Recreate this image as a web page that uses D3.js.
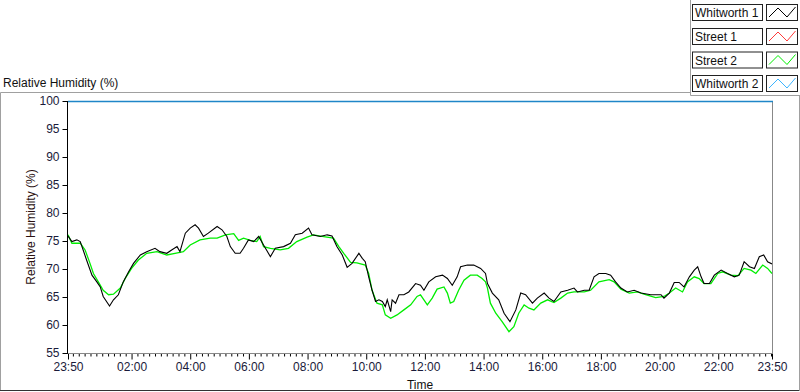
<!DOCTYPE html>
<html><head><meta charset="utf-8">
<script src="https://cdn.jsdelivr.net/npm/d3@7"></script>
<style>
body{margin:0;background:#fff;}
svg{display:block;font-family:"Liberation Sans",Arial,sans-serif;}
</style>
</head><body>
<svg id="chart" width="800" height="392"></svg>
<script>
// ---------- DATA ----------
const seriesNames  = ["Whitworth 1", "Street 1", "Street 2", "Whitworth 2"];
const seriesColors = ["#000000", "#ff3a3a", "#00ee00", "#3cb4ff"];

const whitworth1Time = ["23:50","23:58","00:08","00:15","00:21","00:28","00:39","00:49","00:56","01:02","01:15","01:23","01:33","01:43","01:54","02:04","02:18","02:31","02:48","02:58","03:12","03:22","03:33","03:39","03:50","04:00","04:10","04:17","04:27","04:37","04:55","05:05","05:15","05:22","05:32","05:42","05:49","05:59","06:10","06:20","06:30","06:44","06:54","07:11","07:25","07:35","07:49","08:02","08:09","08:26","08:40","08:50","09:00","09:11","09:21","09:31","09:45","09:52","09:58","10:05","10:12","10:19","10:26","10:33","10:39","10:43","10:50","10:53","11:00","11:07","11:17","11:27","11:41","11:51","11:58","12:08","12:22","12:36","12:46","12:56","13:06","13:13","13:27","13:40","13:54","14:04","14:08","14:18","14:31","14:42","14:54","15:06","15:16","15:26","15:40","15:50","16:04","16:14","16:24","16:38","16:52","17:05","17:12","17:26","17:36","17:46","17:56","18:10","18:20","18:30","18:41","18:54","19:08","19:22","19:42","20:03","20:09","20:20","20:30","20:40","20:50","21:01","21:11","21:18","21:25","21:31","21:42","21:52","22:06","22:19","22:33","22:43","22:53","23:04","23:14","23:24","23:33","23:41","23:50"];
const whitworth1RH = [75.9,74.9,75.2,74.9,73.4,71.6,68.9,67.7,66.8,65.1,63.4,64.5,65.4,67.7,69.5,71.0,72.5,73.1,73.7,73.1,72.8,73.4,74.0,73.1,76.4,77.3,77.9,77.3,75.8,76.4,77.6,77.0,75.8,74.0,72.8,72.8,73.7,75.2,74.9,75.8,74.3,72.2,73.7,74.0,74.6,76.1,76.4,77.3,76.1,75.8,76.1,75.9,74.0,72.5,70.3,71.0,72.8,71.9,71.3,68.6,66.2,64.2,64.5,64.2,63.3,64.5,62.4,64.5,63.9,65.4,65.4,65.9,67.4,67.1,66.2,67.7,68.6,68.9,68.3,67.1,68.6,70.4,70.7,70.7,70.1,69.2,67.4,65.7,64.5,62.1,60.6,62.7,65.7,65.4,63.9,64.8,65.7,64.8,64.2,65.9,66.2,66.6,65.9,66.2,66.2,68.6,69.2,69.2,68.9,67.7,66.6,65.9,66.2,65.7,65.4,65.4,64.8,65.7,67.6,67.6,66.8,68.6,69.8,70.4,68.6,67.4,67.4,68.9,69.8,69.2,68.6,68.9,71.3,70.4,70.1,72.2,72.5,71.3,70.9];

const street2Time = ["23:50","23:58","00:15","00:25","00:35","00:42","00:52","01:02","01:13","01:23","01:37","01:47","02:00","02:14","02:31","02:52","03:12","03:29","03:46","04:00","04:20","04:41","04:55","05:12","05:29","05:39","05:49","06:03","06:16","06:23","06:30","06:44","07:04","07:21","07:38","07:59","08:12","08:33","08:53","09:04","09:14","09:28","09:41","09:58","10:05","10:12","10:22","10:33","10:39","10:50","11:03","11:17","11:31","11:44","11:51","11:58","12:05","12:15","12:25","12:39","12:46","12:52","12:59","13:09","13:20","13:33","13:47","13:57","14:04","14:08","14:14","14:25","14:38","14:52","15:02","15:12","15:23","15:33","15:43","15:57","16:11","16:24","16:38","16:52","17:05","17:26","17:39","17:56","18:17","18:27","18:41","18:58","19:15","19:28","19:52","20:09","20:20","20:33","20:47","20:57","21:11","21:21","21:31","21:45","21:59","22:09","22:26","22:40","22:53","23:07","23:17","23:31","23:41","23:50"];
const street2RH = [76.1,74.6,74.6,73.4,71.0,69.2,67.7,66.2,65.4,65.5,66.6,68.3,70.1,71.6,72.8,73.1,72.5,72.8,73.1,74.3,75.2,75.5,75.5,76.1,76.3,75.1,75.5,75.1,74.9,75.8,74.0,73.7,73.4,73.7,74.9,75.7,76.1,75.8,75.5,74.0,72.8,71.2,71.1,70.7,69.2,66.2,63.9,63.6,61.8,61.2,61.8,62.7,63.6,65.1,65.4,64.5,63.6,64.8,66.4,66.8,65.7,63.9,64.2,66.2,68.0,68.9,68.9,68.3,67.7,66.6,63.9,62.1,60.6,58.8,59.7,62.1,63.6,63.0,62.7,63.9,64.5,64.0,64.8,65.7,65.9,65.9,66.2,67.7,68.1,67.7,66.4,65.7,65.9,65.5,64.9,65.1,65.7,66.6,65.9,67.7,68.6,68.3,67.4,67.4,69.2,69.5,68.9,68.8,70.1,69.8,69.2,70.7,70.1,69.2];

const yTickValues  = [55,60,65,70,75,80,85,90,95,100];
const xTickLabels  = ["23:50","02:00","04:00","06:00","08:00","10:00","12:00","14:00","16:00","18:00","20:00","22:00","23:50"];
const chartTitle = "Relative Humidity (%)";
const yAxisTitle = "Relative Humidity (%)";
const xAxisTitle = "Time";

// ---------- HELPERS ----------
function parseTimes(list){
  let day = 0, prev = -1;
  return list.map(s => {
    const [h, m] = s.split(":").map(Number);
    const mins = h*60 + m;
    if (mins < prev) day++;
    prev = mins;
    return new Date(2000, 0, 1 + day, h, m);
  });
}

const svg = d3.select("#chart");
const W = 800, H = 392;
const L = 68, R = 772, T = 101, B = 353;

const start = new Date(2000,0,1,23,50), end = new Date(2000,0,2,23,50);
const x = d3.scaleTime().domain([start, end]).range([L, R]);
const y = d3.scaleLinear().domain([55, 100]).range([B, T]);

// ---------- PANELS ----------
svg.append("rect").attr("width",W).attr("height",H).attr("fill","#fff");
const gray = "#a0a0a0";
svg.append("path").attr("fill","none").attr("stroke",gray).attr("d",`M0.5,92.5 H690.5`);
svg.append("path").attr("fill","none").attr("stroke",gray).attr("d",`M0.5,92.5 V390.5`);
svg.append("path").attr("fill","none").attr("stroke","#333").attr("d",`M0,390.5 H800`);
svg.append("path").attr("fill","none").attr("stroke",gray).attr("d",`M799.5,95 V391`);
svg.append("path").attr("fill","none").attr("stroke",gray).attr("d",`M690.5,0 V95.5 H800`);

// title
svg.append("text").attr("x",3).attr("y",87).attr("font-size",12).attr("fill","#111")
  .text(chartTitle);

// ---------- LEGEND ----------
const legendTop = [4, 28, 51.5, 75];
seriesNames.forEach((name, i) => {
  const ty = legendTop[i];
  svg.append("rect").attr("x",692.5).attr("y",ty+0.5).attr("width",70).attr("height",16)
    .attr("fill","#fff").attr("stroke","#222");
  svg.append("text").attr("x",695).attr("y",ty+13).attr("font-size",12).attr("fill","#111")
    .text(name);
  svg.append("rect").attr("x",766.5).attr("y",ty+0.5).attr("width",31).attr("height",16)
    .attr("fill","#fff").attr("stroke","#222");
  const pts = [[769,ty+13],[778,ty+4],[787,ty+13],[795.5,ty+3]];
  svg.append("path").attr("fill","none").attr("stroke",seriesColors[i]).attr("stroke-width",1)
    .attr("d", d3.line()(pts));
});

// ---------- AXES ----------
const yAxis = d3.axisLeft(y).tickValues(yTickValues).tickSize(5).tickPadding(3).tickSizeOuter(0);
const gy = svg.append("g").attr("transform",`translate(${L - 0.5},0)`).call(yAxis);
gy.select(".domain").remove();
gy.selectAll("line").attr("stroke","#000");
gy.selectAll("text").attr("font-size",12).attr("fill","#1a1a3a")
  .attr("font-family","'Liberation Sans',Arial,sans-serif");

const majors = parseTimes(xTickLabels);
const xAxis = d3.axisBottom(x).tickValues(majors).tickFormat((d,i)=>xTickLabels[i])
  .tickSize(6).tickPadding(3).tickSizeOuter(0);
const gx = svg.append("g").attr("transform",`translate(0,${B + 0.5})`).call(xAxis);
gx.select(".domain").remove();
gx.selectAll("line").attr("stroke","#000");
gx.selectAll("text").attr("font-size",12).attr("fill","#1a1a3a")
  .attr("font-family","'Liberation Sans',Arial,sans-serif");

const majorSet = new Set(majors.map(d=>+d));
const minors = d3.timeMinute.every(12).range(start, end).filter(d => !majorSet.has(+d));
const gxm = svg.append("g").attr("transform",`translate(0,${B + 0.5})`)
  .call(d3.axisBottom(x).tickValues(minors).tickFormat("").tickSize(3).tickSizeOuter(0));
gxm.select(".domain").remove();
gxm.selectAll("line").attr("stroke","#000");

svg.append("text").attr("transform",`translate(35,${(T+B)/2}) rotate(-90)`)
  .attr("text-anchor","middle").attr("font-size",12).attr("fill","#2a1010").text(yAxisTitle);
svg.append("text").attr("x",(L+R)/2).attr("y",389).attr("text-anchor","middle")
  .attr("font-size",12).attr("fill","#111").text(xAxisTitle);

// ---------- PLOT ----------
svg.append("defs").append("clipPath").attr("id","clip")
  .append("rect").attr("x",L).attr("y",T).attr("width",R-L).attr("height",B-T);

const line = d3.line().x(d=>x(d[0])).y(d=>y(d[1]));
const plot = svg.append("g").attr("clip-path","url(#clip)");

const s2 = parseTimes(street2Time).map((t,i)=>[t, street2RH[i]]);
const w1 = parseTimes(whitworth1Time).map((t,i)=>[t, whitworth1RH[i]]);

plot.append("path").datum(s2).attr("fill","none").attr("stroke",seriesColors[2])
  .attr("stroke-width",1.3).attr("d",line);
plot.append("path").datum(w1).attr("fill","none").attr("stroke",seriesColors[0])
  .attr("stroke-width",1.1).attr("d",line);

// plot frame
svg.append("line").attr("x1",L-0.5).attr("x2",L-0.5).attr("y1",T).attr("y2",B+1).attr("stroke","#000");
svg.append("line").attr("x1",L).attr("x2",R+1).attr("y1",B+0.5).attr("y2",B+0.5).attr("stroke","#888");
svg.append("line").attr("x1",R+0.5).attr("x2",R+0.5).attr("y1",T).attr("y2",B+1).attr("stroke","#888");
svg.append("line").attr("x1",L).attr("x2",R+1).attr("y1",T+0.5).attr("y2",T+0.5)
  .attr("stroke","#1f86c8").attr("stroke-width",1.6);
</script>
</body></html>
